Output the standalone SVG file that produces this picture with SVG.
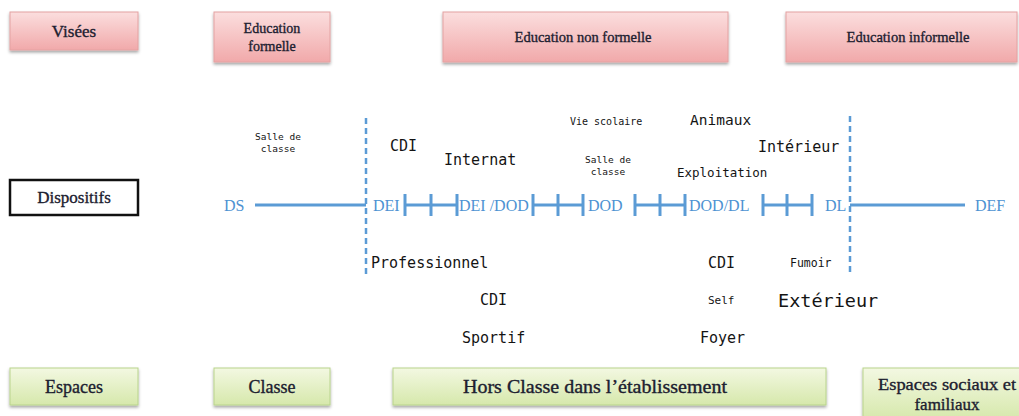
<svg xmlns="http://www.w3.org/2000/svg" width="1019" height="416" viewBox="0 0 1019 416">
  <defs>
    <linearGradient id="pink" x1="0" y1="0" x2="0" y2="1">
      <stop offset="0" stop-color="#fbdede"/>
      <stop offset="1" stop-color="#f1a9aa"/>
    </linearGradient>
    <linearGradient id="green" x1="0" y1="0" x2="0" y2="1">
      <stop offset="0" stop-color="#f3f8e2"/>
      <stop offset="1" stop-color="#d6e8ab"/>
    </linearGradient>
    <filter id="shadow" x="-10%" y="-20%" width="120%" height="150%">
      <feDropShadow dx="0" dy="2" stdDeviation="1.5" flood-color="#000" flood-opacity="0.35"/>
    </filter>
  </defs>
  <style>
    .pinkbox { fill: url(#pink); stroke: #e4a2a2; stroke-width: 1; filter: url(#shadow); }
    .greenbox { fill: url(#green); stroke: #b9d48c; stroke-width: 1; filter: url(#shadow); }
    .boxtext { font-family: "Liberation Serif", serif; fill: #1c2030; stroke: #1c2030; stroke-width: 0.35; text-anchor: middle; }
    .blue { font-family: "Liberation Serif", serif; font-size: 16px; fill: #4d92d2; }
    .mono { font-family: "DejaVu Sans Mono", "Liberation Mono", monospace; fill: #141414; }
    .axis { stroke: #5b9bd5; stroke-width: 3; fill: none; }
    .dash { stroke: #5b9bd5; stroke-width: 2.5; stroke-dasharray: 6 4; fill: none; }
  </style>
  <rect width="1019" height="416" fill="#ffffff"/>

  <!-- Row 1: aims -->
  <g id="visees">
    <rect class="pinkbox" x="10" y="12" width="128" height="38"/>
    <text class="boxtext" x="74" y="37" font-size="17">Visées</text>
  </g>
  <g id="education-formelle">
    <rect class="pinkbox" x="214" y="12" width="116" height="50"/>
    <text class="boxtext" x="272" y="33" font-size="14">Education</text>
    <text class="boxtext" x="272" y="51" font-size="14">formelle</text>
  </g>
  <g id="education-non-formelle">
    <rect class="pinkbox" x="443" y="12" width="285" height="50"/>
    <text class="boxtext" x="583" y="42" font-size="14.5">Education non formelle</text>
  </g>
  <g id="education-informelle">
    <rect class="pinkbox" x="786" y="12" width="231" height="50"/>
    <text class="boxtext" x="908" y="42" font-size="14.5">Education informelle</text>
  </g>

  <!-- Row 2: devices -->
  <g id="dispositifs">
    <rect x="10" y="180" width="128" height="35" fill="#ffffff" stroke="#111" stroke-width="2.5"/>
    <text class="boxtext" x="74" y="203" font-size="17">Dispositifs</text>
  </g>

  <!-- Timeline -->
  <g id="connectors">
    <line class="axis" x1="255" y1="205" x2="366" y2="205"/>
    <line class="axis" x1="405" y1="205" x2="457" y2="205"/>
    <line class="axis" x1="405" y1="194" x2="405" y2="216"/>
    <line class="axis" x1="431" y1="194" x2="431" y2="216"/>
    <line class="axis" x1="457" y1="194" x2="457" y2="216"/>
    <line class="axis" x1="533" y1="205" x2="583" y2="205"/>
    <line class="axis" x1="533" y1="194" x2="533" y2="216"/>
    <line class="axis" x1="558" y1="194" x2="558" y2="216"/>
    <line class="axis" x1="583" y1="194" x2="583" y2="216"/>
    <line class="axis" x1="635" y1="205" x2="685" y2="205"/>
    <line class="axis" x1="635" y1="194" x2="635" y2="216"/>
    <line class="axis" x1="660" y1="194" x2="660" y2="216"/>
    <line class="axis" x1="685" y1="194" x2="685" y2="216"/>
    <line class="axis" x1="763" y1="205" x2="812" y2="205"/>
    <line class="axis" x1="763" y1="194" x2="763" y2="216"/>
    <line class="axis" x1="787" y1="194" x2="787" y2="216"/>
    <line class="axis" x1="812" y1="194" x2="812" y2="216"/>
    <line class="axis" x1="850" y1="205" x2="965" y2="205"/>
    <line class="dash" x1="366" y1="118" x2="366" y2="276"/>
    <line class="dash" x1="850" y1="116" x2="850" y2="276"/>
  </g>

  <g id="timeline-labels">
    <text class="blue" x="224" y="211">DS</text>
    <text class="blue" x="373" y="211">DEI</text>
    <text class="blue" x="459" y="211">DEI /DOD</text>
    <text class="blue" x="588" y="211">DOD</text>
    <text class="blue" x="689" y="211">DOD/DL</text>
    <text class="blue" x="825" y="211">DL</text>
    <text class="blue" x="975" y="211">DEF</text>
  </g>

  <!-- Places above the timeline -->
  <g id="places-above">
    <text class="mono" x="278" y="140" font-size="9.5" text-anchor="middle">Salle de</text>
    <text class="mono" x="278" y="152" font-size="9.5" text-anchor="middle">classe</text>
    <text class="mono" x="390" y="151" font-size="15">CDI</text>
    <text class="mono" x="444" y="165" font-size="15">Internat</text>
    <text class="mono" x="570" y="125" font-size="10">Vie scolaire</text>
    <text class="mono" x="690" y="125" font-size="14.5">Animaux</text>
    <text class="mono" x="608" y="163" font-size="9.5" text-anchor="middle">Salle de</text>
    <text class="mono" x="608" y="175" font-size="9.5" text-anchor="middle">classe</text>
    <text class="mono" x="758" y="152" font-size="15">Intérieur</text>
    <text class="mono" x="677" y="177" font-size="12.5">Exploitation</text>
  </g>

  <!-- Places below the timeline -->
  <g id="places-below">
    <text class="mono" x="371" y="268" font-size="15">Professionnel</text>
    <text class="mono" x="480" y="305" font-size="15">CDI</text>
    <text class="mono" x="462" y="343" font-size="15">Sportif</text>
    <text class="mono" x="708" y="268" font-size="15">CDI</text>
    <text class="mono" x="790" y="267" font-size="11.5">Fumoir</text>
    <text class="mono" x="708" y="304" font-size="11">Self</text>
    <text class="mono" x="778" y="307" font-size="18.5">Extérieur</text>
    <text class="mono" x="700" y="343" font-size="15">Foyer</text>
  </g>

  <!-- Row 3: spaces -->
  <g id="espaces">
    <rect class="greenbox" x="10" y="368" width="128" height="37"/>
    <text class="boxtext" x="74" y="393" font-size="18">Espaces</text>
  </g>
  <g id="classe">
    <rect class="greenbox" x="214" y="368" width="116" height="37"/>
    <text class="boxtext" x="272" y="393" font-size="18">Classe</text>
  </g>
  <g id="hors-classe">
    <rect class="greenbox" x="393" y="368" width="433" height="37"/>
    <text class="boxtext" x="595" y="393" font-size="18" textLength="264" lengthAdjust="spacingAndGlyphs">Hors Classe dans l’établissement</text>
  </g>
  <g id="espaces-sociaux">
    <rect class="greenbox" x="863" y="368" width="160" height="52"/>
    <text class="boxtext" x="947" y="390" font-size="17" textLength="138" lengthAdjust="spacingAndGlyphs">Espaces sociaux et</text>
    <text class="boxtext" x="947" y="410" font-size="17">familiaux</text>
  </g>
</svg>
